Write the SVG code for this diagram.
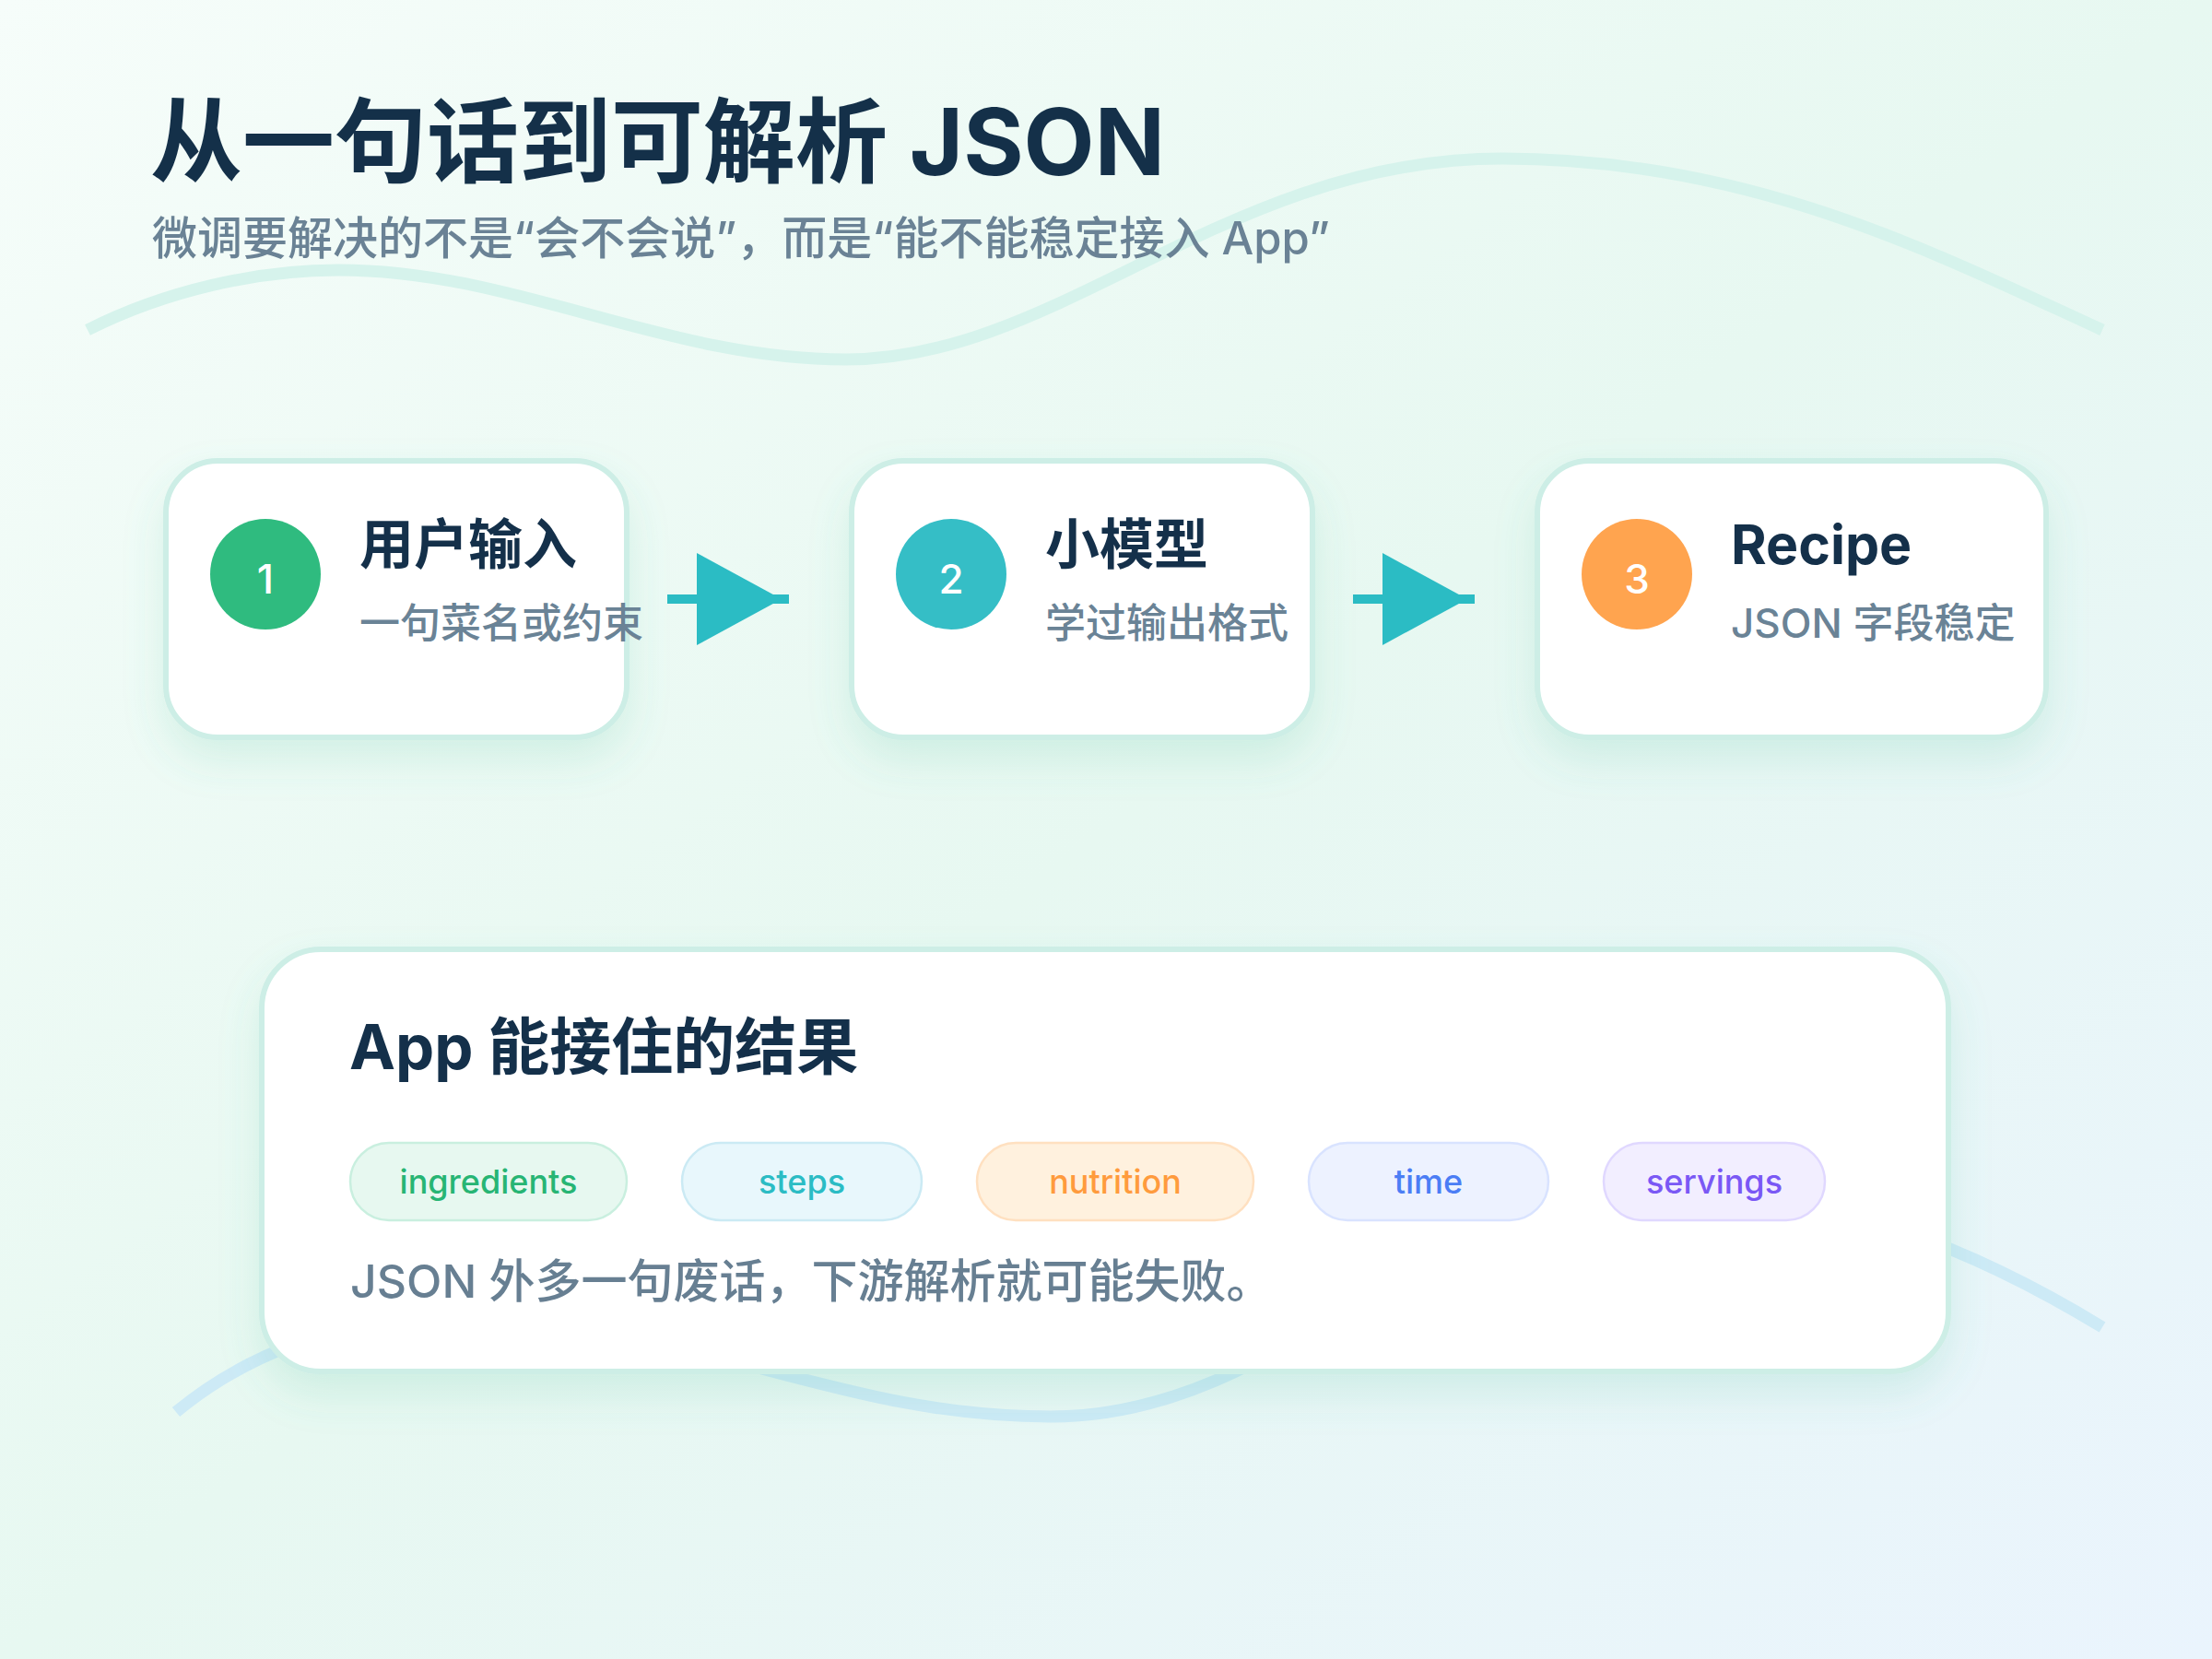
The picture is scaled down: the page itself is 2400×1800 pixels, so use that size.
<svg xmlns="http://www.w3.org/2000/svg" width="2400" height="1800" viewBox="0 0 2400 1800">
  <defs>
    <linearGradient id="bg" x1="0" y1="0" x2="1" y2="1">
      <stop offset="0" stop-color="#f6fdfa"/>
      <stop offset="0.5" stop-color="#e7f8f1"/>
      <stop offset="1" stop-color="#eaf4fd"/>
    </linearGradient>
    <filter id="shadow" x="-20%" y="-20%" width="140%" height="150%">
      <feDropShadow dx="0" dy="22" stdDeviation="22" flood-color="#4fbf9a" flood-opacity="0.16"/>
    </filter>
    <marker id="arrow" markerUnits="userSpaceOnUse" markerWidth="100" markerHeight="100" viewBox="0 0 100 100" refX="100" refY="50" orient="auto">
      <path d="M0 0 L92 50 L0 100 Z" fill="#2bbcc4"/>
    </marker>
    <style>
      text { font-family: Inter, "Noto Sans CJK SC", sans-serif; }
      .card { fill: #ffffff; stroke: #cdeee6; stroke-width: 6; filter: url(#shadow); }
      .num { fill: #ffffff; font-size: 44px; font-weight: 500; text-anchor: middle; }
      .ntitle { fill: #14304a; font-size: 59px; font-weight: 700; }
      .nsub { fill: #6a8396; font-size: 44px; font-weight: 500; }
      .pill { stroke-width: 2.5; }
      .ptext { font-size: 36px; font-weight: 500; text-anchor: middle; }
      .conn { stroke: #2bbcc4; stroke-width: 10; fill: none; marker-end: url(#arrow); }
    </style>
  </defs>

  <rect x="0" y="0" width="2400" height="1800" fill="url(#bg)"/>

  <g id="waves" fill="none" stroke-linecap="butt">
    <path d="M95,358 C180,315 280,293 367,293 C560,293 720,390 918,390 C1150,390 1330,172 1630,172 C1900,172 2100,275 2281,358" stroke="#d6f3ec" stroke-width="13"/>
    <path d="M191,1532 C260,1475 360,1430 480,1430 C750,1430 900,1537 1140,1537 C1400,1537 1550,1290 1800,1290 C1990,1290 2150,1360 2281,1440" stroke="#cdeaf6" stroke-width="13"/>
  </g>

  <g id="header">
    <text x="163" y="190" font-size="100" font-weight="700" fill="#143049">从一句话到可解析 JSON</text>
    <text x="165" y="276" font-size="49" font-weight="500" fill="#6a8295">微调要解决的不是“会不会说”，而是“能不能稳定接入 App”</text>
  </g>

  <g id="connectors">
    <line class="conn" x1="724" y1="650" x2="856" y2="650"/>
    <line class="conn" x1="1468" y1="650" x2="1600" y2="650"/>
  </g>

  <g id="node-1">
    <rect class="card" x="180" y="500" width="500" height="300" rx="56"/>
    <circle cx="288" cy="623" r="60" fill="#2fbb7f"/>
    <text class="num" x="288" y="644">1</text>
    <text class="ntitle" x="390" y="612">用户输入</text>
    <text class="nsub" x="390" y="692">一句菜名或约束</text>
  </g>

  <g id="node-2">
    <rect class="card" x="924" y="500" width="500" height="300" rx="56"/>
    <circle cx="1032" cy="623" r="60" fill="#35bec6"/>
    <text class="num" x="1032" y="644">2</text>
    <text class="ntitle" x="1134" y="612">小模型</text>
    <text class="nsub" x="1134" y="692">学过输出格式</text>
  </g>

  <g id="node-3">
    <rect class="card" x="1668" y="500" width="552" height="300" rx="56"/>
    <circle cx="1776" cy="623" r="60" fill="#ffa44f"/>
    <text class="num" x="1776" y="644">3</text>
    <text class="ntitle" x="1878" y="612">Recipe</text>
    <text class="nsub" x="1878" y="692">JSON 字段稳定</text>
  </g>

  <g id="result">
    <rect class="card" x="284" y="1030" width="1830" height="458" rx="64"/>
    <text x="379" y="1160" font-size="67" font-weight="700" fill="#14304a">App 能接住的结果</text>
    <g id="pill-ingredients">
      <rect class="pill" x="380" y="1240" width="300" height="84" rx="42" fill="#e7f8f0" stroke="#c9efdf"/>
      <text class="ptext" x="530" y="1295" fill="#27b574">ingredients</text>
    </g>
    <g id="pill-steps">
      <rect class="pill" x="740" y="1240" width="260" height="84" rx="42" fill="#e8f7fc" stroke="#cbeaf4"/>
      <text class="ptext" x="870" y="1295" fill="#2bbcc4">steps</text>
    </g>
    <g id="pill-nutrition">
      <rect class="pill" x="1060" y="1240" width="300" height="84" rx="42" fill="#fff1de" stroke="#ffe0c0"/>
      <text class="ptext" x="1210" y="1295" fill="#ff9b3d">nutrition</text>
    </g>
    <g id="pill-time">
      <rect class="pill" x="1420" y="1240" width="260" height="84" rx="42" fill="#edf2ff" stroke="#d9e3ff"/>
      <text class="ptext" x="1550" y="1295" fill="#4b7df5">time</text>
    </g>
    <g id="pill-servings">
      <rect class="pill" x="1740" y="1240" width="240" height="84" rx="42" fill="#f2eeff" stroke="#e0d8ff"/>
      <text class="ptext" x="1860" y="1295" fill="#7a58f5">servings</text>
    </g>
    <text x="380" y="1408" font-size="50" font-weight="500" fill="#677f92">JSON 外多一句废话，下游解析就可能失败。</text>
  </g>
</svg>
